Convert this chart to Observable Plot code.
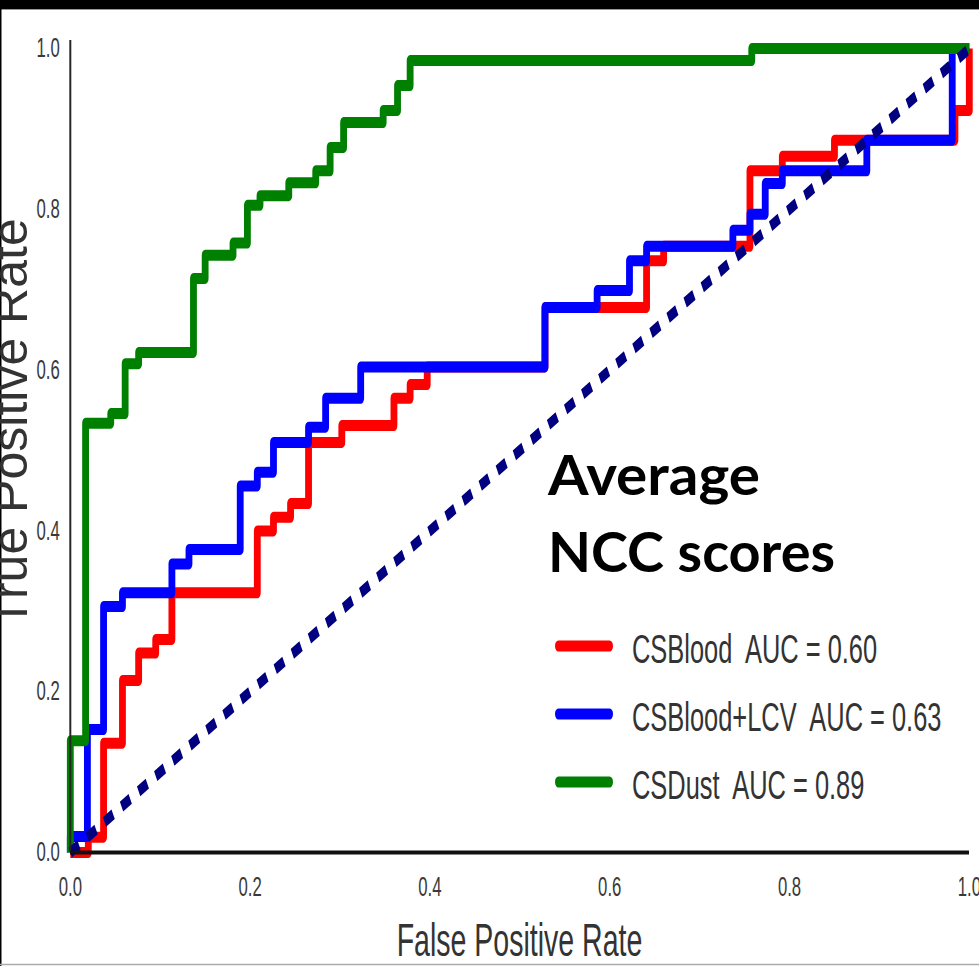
<!DOCTYPE html>
<html>
<head>
<meta charset="utf-8">
<script src="https://cdn.jsdelivr.net/npm/d3@7"></script>
<script src="https://cdn.jsdelivr.net/npm/@observablehq/plot@0.6"></script>
<style>
  html, body { margin: 0; padding: 0; background: #fff; overflow: hidden; }
</style>
</head>
<body>
<div id="chart"></div>
<script>
// ---------------- data ----------------
const seriesNames = ["CSBlood", "CSBlood+LCV", "CSDust"];
const seriesAUC = [0.60, 0.63, 0.89];
const seriesColors = ["#ff0000", "#0000ff", "#008000"];

// ROC corner points (curve rises to tpr at each fpr)
const redFpr = [0, 0.02, 0.037, 0.058, 0.076, 0.095, 0.113, 0.208, 0.226, 0.245, 0.265, 0.302, 0.36, 0.378, 0.397, 0.528, 0.641, 0.66, 0.756, 0.792, 0.85, 0.984, 1.0];
const redTpr = [0, 0.019, 0.136, 0.214, 0.248, 0.265, 0.323, 0.4, 0.417, 0.434, 0.51, 0.531, 0.565, 0.582, 0.604, 0.678, 0.736, 0.754, 0.848, 0.866, 0.886, 0.923, 1.0];

const blueFpr = [0, 0, 0.019, 0.037, 0.058, 0.113, 0.132, 0.189, 0.208, 0.226, 0.265, 0.284, 0.323, 0.528, 0.586, 0.622, 0.641, 0.737, 0.756, 0.773, 0.792, 0.886, 0.981, 1];
const blueTpr = [0, 0.02, 0.153, 0.306, 0.323, 0.359, 0.377, 0.456, 0.473, 0.51, 0.529, 0.565, 0.604, 0.678, 0.699, 0.736, 0.754, 0.774, 0.794, 0.832, 0.848, 0.886, 1, 1];

const greenFpr = [0, 0, 0.017, 0.045, 0.061, 0.076, 0.137, 0.15, 0.181, 0.197, 0.211, 0.243, 0.273, 0.289, 0.304, 0.348, 0.364, 0.378, 0.758, 1];
const greenTpr = [0, 0.139, 0.534, 0.546, 0.608, 0.622, 0.714, 0.743, 0.758, 0.805, 0.817, 0.833, 0.848, 0.877, 0.908, 0.923, 0.954, 0.985, 1, 1];

const chanceFpr = [0, 1];
const chanceTpr = [0, 1];

const xTicks = [0, 0.2, 0.4, 0.6, 0.8, 1.0];
const yTicks = [0, 0.2, 0.4, 0.6, 0.8, 1.0];
const xLabel = "False Positive Rate";
const yLabel = "True Positive Rate";
const titleLines = ["Average", "NCC scores"];

// ---------------- tables ----------------
const rows = (fpr, tpr, name) => fpr.map((f, i) => ({fpr: f, tpr: tpr[i], name}));
const roc = [
  ...rows(redFpr, redTpr, seriesNames[0]),
  ...rows(blueFpr, blueTpr, seriesNames[1]),
  ...rows(greenFpr, greenTpr, seriesNames[2])
];
const chance = rows(chanceFpr, chanceTpr, "chance");

// ---------------- layout (figure is squeezed horizontally) ----------------
const S = 0.62, DW = 979, DH = 966;
const W = DW / S;
const font = "'Liberation Sans', Arial, sans-serif";

const svg = Plot.plot({
  width: W,
  height: DH,
  marginLeft: 70 / S,
  marginRight: 10 / S,
  marginTop: 40,
  marginBottom: DH - 852,
  x: {domain: [0, 1]},
  y: {domain: [0, 1.01]},
  color: {domain: seriesNames, range: seriesColors},
  style: {fontFamily: font, background: "white"},
  marks: [
    Plot.axisX({ticks: xTicks, tickFormat: d3.format(".1f"), tickSize: 0, tickPadding: 24,
      fontSize: 27, fill: "#3a3a3a", fontFamily: font, label: null}),
    Plot.axisY({ticks: yTicks, tickFormat: d3.format(".1f"), tickSize: 0, tickPadding: 17,
      fontSize: 27, fill: "#3a3a3a", fontFamily: font, label: null}),
    Plot.line(roc, {x: "fpr", y: "tpr", z: "name", stroke: "name", curve: "step-after",
      strokeWidth: 11, strokeLinecap: "butt", strokeLinejoin: "round"}),
    Plot.line(chance, {x: "fpr", y: "tpr", stroke: "#000080", strokeWidth: 11,
      strokeDasharray: "16,15.5", strokeLinecap: "butt"}),
    Plot.ruleX([0], {stroke: "#262626", strokeWidth: 3.2}),
    Plot.ruleY([0], {stroke: "#111", strokeWidth: 4})
  ]
});

svg.setAttribute("width", DW);
svg.setAttribute("height", DH);
svg.setAttribute("preserveAspectRatio", "none");
svg.style.width = DW + "px";
svg.style.height = DH + "px";
svg.style.maxWidth = "none";
document.getElementById("chart").appendChild(svg);

const sel = d3.select(svg);

// x label (squeezed like the figure)
sel.append("text")
  .attr("x", 519.5 / S).attr("y", 956)
  .attr("text-anchor", "middle")
  .attr("font-family", font).attr("font-size", 46).attr("fill", "#333")
  .text(xLabel);

// legend (squeezed)
const lg = sel.append("g").attr("font-family", font).attr("font-size", 41)
  .attr("fill", "#333").attr("text-anchor", "start");
seriesNames.forEach((n, i) => {
  const cy = 646 + 68 * i;
  lg.append("line")
    .attr("x1", 558.4 / S).attr("x2", 609.6 / S)
    .attr("y1", cy).attr("y2", cy)
    .attr("stroke", seriesColors[i]).attr("stroke-width", 11).attr("stroke-linecap", "round");
  lg.append("text")
    .attr("x", 632 / S).attr("y", cy + 17)
    .attr("text-anchor", "start")
    .style("white-space", "pre")
    .text(`${n}  AUC = ${seriesAUC[i].toFixed(2)}`);
});

// unsqueezed overlay (display coordinates)
const gd = sel.append("g").attr("transform", `scale(${1 / S},1)`);
gd.append("rect").attr("x", 0).attr("y", 0).attr("width", DW).attr("height", 9).attr("fill", "#000");
gd.append("line").attr("x1", 0).attr("x2", DW).attr("y1", 9.5).attr("y2", 9.5).attr("stroke", "#999").attr("stroke-width", 1);
gd.append("line").attr("x1", 0.75).attr("x2", 0.75).attr("y1", 0).attr("y2", DH).attr("stroke", "#000").attr("stroke-width", 1.5);
gd.append("line").attr("x1", 0).attr("x2", DW).attr("y1", 964.5).attr("y2", 964.5).attr("stroke", "#aaa").attr("stroke-width", 1.5);

gd.append("text")
  .attr("transform", "translate(27,423) rotate(-90)")
  .attr("text-anchor", "middle")
  .attr("font-family", font).attr("font-size", 50).attr("fill", "#333")
  .text(yLabel);

titleLines.forEach((t, i) => {
  gd.append("text")
    .attr("x", 548).attr("y", [495, 572][i])
    .attr("text-anchor", "start")
    .attr("font-family", "Lato, 'Open Sans', sans-serif").attr("font-weight", 700)
    .attr("font-size", 56).attr("fill", "#000")
    .attr("textLength", [212, 287][i]).attr("lengthAdjust", "spacingAndGlyphs")
    .text(t);
});
</script>
</body>
</html>
